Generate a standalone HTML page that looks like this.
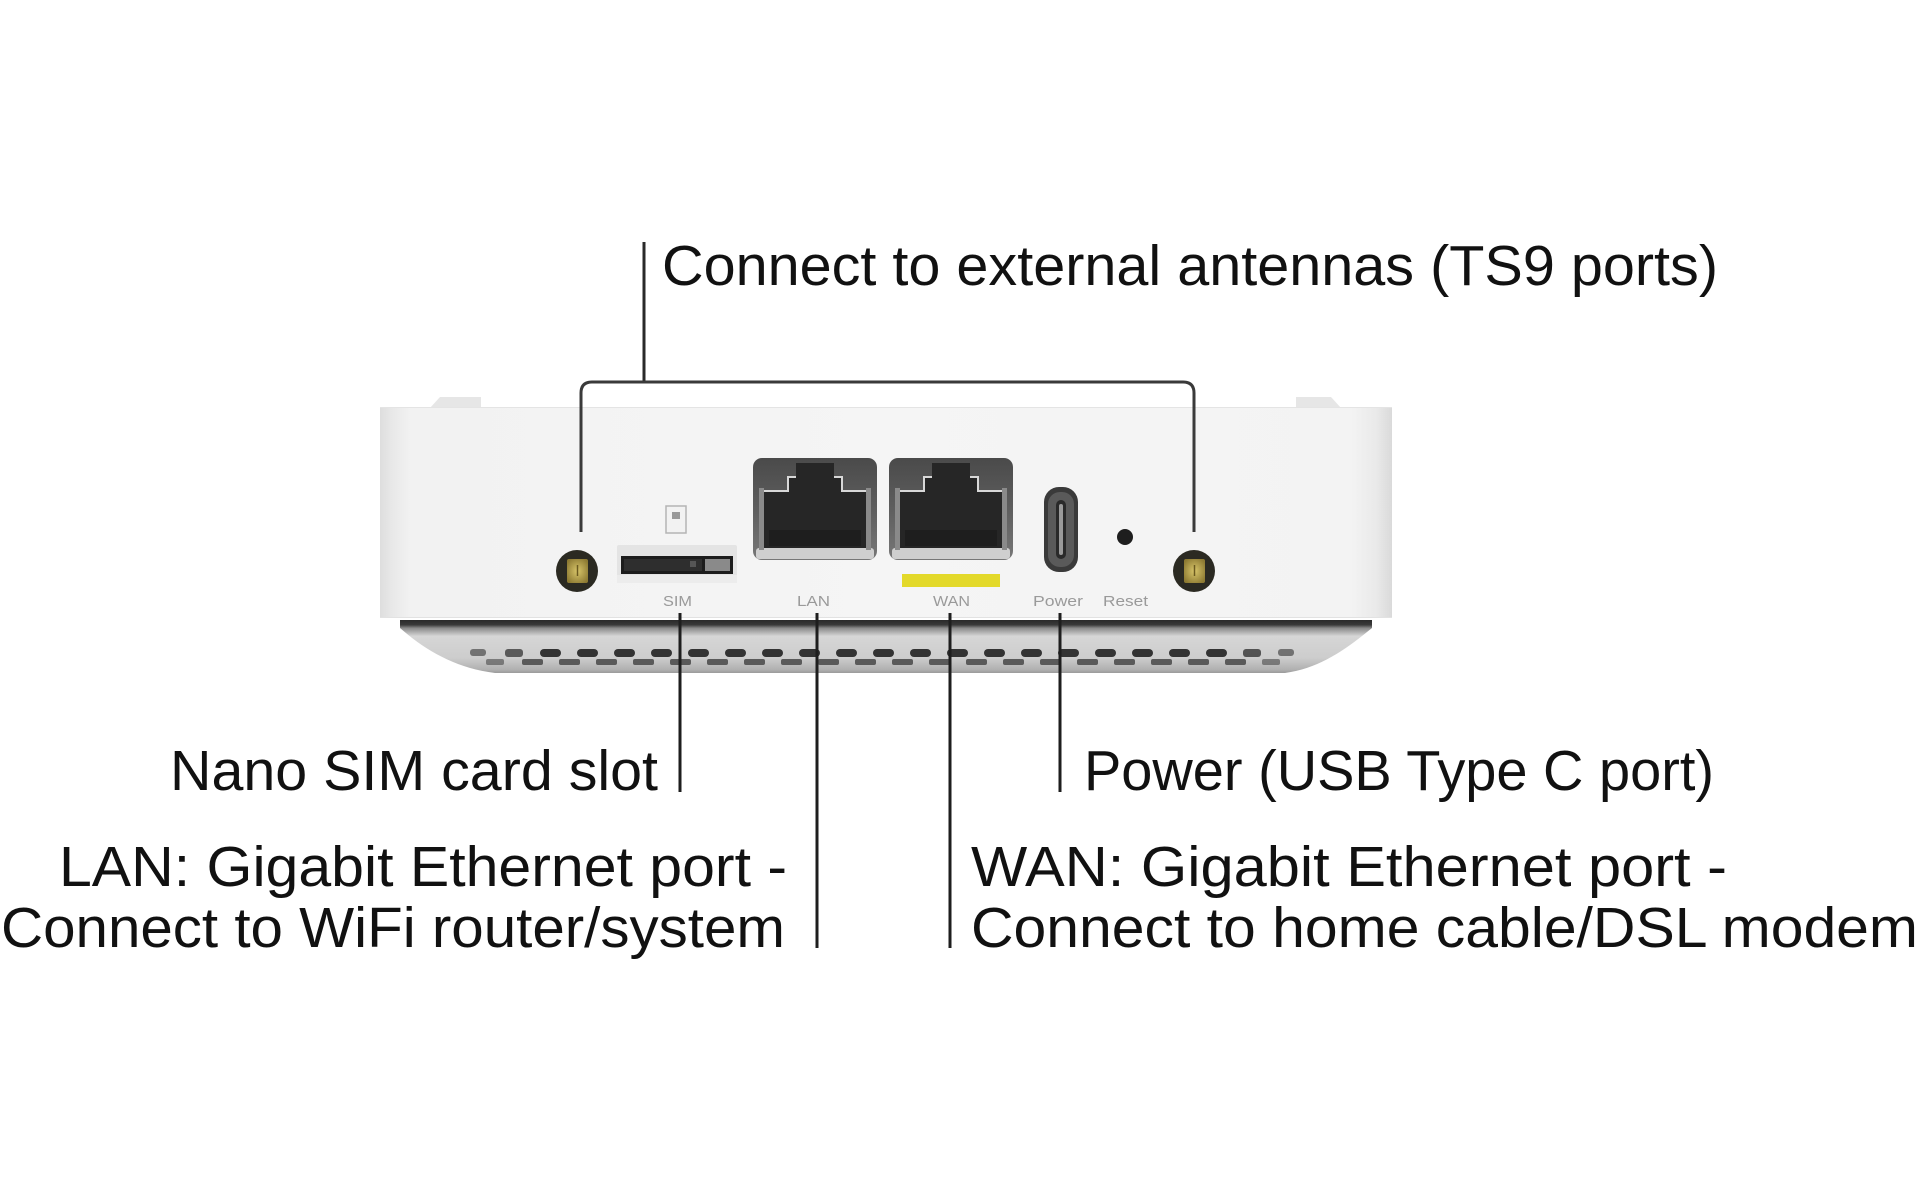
<!DOCTYPE html>
<html>
<head>
<meta charset="utf-8">
<style>
html,body{margin:0;padding:0;background:#fff;}
svg{display:block;}
text{font-family:"Liberation Sans",Arial,sans-serif;}
</style>
</head>
<body>
<svg width="1920" height="1200" viewBox="0 0 1920 1200" xmlns="http://www.w3.org/2000/svg">
<defs>
  <linearGradient id="bodyg" x1="380" y1="0" x2="1392" y2="0" gradientUnits="userSpaceOnUse">
    <stop offset="0" stop-color="#dedede"/>
    <stop offset="0.012" stop-color="#e8e8e8"/>
    <stop offset="0.03" stop-color="#f2f2f2"/>
    <stop offset="0.5" stop-color="#f5f5f5"/>
    <stop offset="0.96" stop-color="#f3f3f3"/>
    <stop offset="0.985" stop-color="#e9e9e9"/>
    <stop offset="1" stop-color="#dadada"/>
  </linearGradient>
  <linearGradient id="ventg" x1="0" y1="620" x2="0" y2="674" gradientUnits="userSpaceOnUse">
    <stop offset="0" stop-color="#2a2a2a"/>
    <stop offset="0.09" stop-color="#3a3a3a"/>
    <stop offset="0.15" stop-color="#8a8a8a"/>
    <stop offset="0.3" stop-color="#d6d6d6"/>
    <stop offset="0.7" stop-color="#cdcdcd"/>
    <stop offset="0.92" stop-color="#b0b0b0"/>
    <stop offset="1" stop-color="#949494"/>
  </linearGradient>
  <linearGradient id="portg" x1="0" y1="0" x2="0" y2="1">
    <stop offset="0" stop-color="#4a4a4a"/>
    <stop offset="0.5" stop-color="#5e5e5e"/>
    <stop offset="1" stop-color="#777"/>
  </linearGradient>
  <radialGradient id="gold" cx="0.5" cy="0.5" r="0.6">
    <stop offset="0" stop-color="#d8c56a"/>
    <stop offset="1" stop-color="#8d7a32"/>
  </radialGradient>
</defs>

<!-- device top tabs -->
<polygon points="430,408 440,397 481,397 481,408" fill="#e6e6e6"/>
<polygon points="1296,408 1296,397 1331,397 1341,408" fill="#e6e6e6"/>

<!-- device body -->
<rect x="380" y="407" width="1012" height="211" fill="url(#bodyg)"/>
<line x1="380" y1="407.5" x2="1392" y2="407.5" stroke="#e4e4e4" stroke-width="1"/>
<line x1="380" y1="617.5" x2="1392" y2="617.5" stroke="#e2e2e2" stroke-width="1"/>

<!-- vent base -->
<path d="M400 620 H1372 V628 C1345 650 1320 668 1285 673 H495 C455 668 425 650 400 628 Z" fill="url(#ventg)"/>
<g fill="#333">
  <rect x="470" y="649" width="16" height="7" rx="3" opacity="0.6"/>
  <rect x="505" y="649" width="18" height="8" rx="3" opacity="0.75"/>
  <rect x="540" y="649" width="21" height="8" rx="4"/>
  <rect x="577" y="649" width="21" height="8" rx="4"/>
  <rect x="614" y="649" width="21" height="8" rx="4"/>
  <rect x="651" y="649" width="21" height="8" rx="4"/>
  <rect x="688" y="649" width="21" height="8" rx="4"/>
  <rect x="725" y="649" width="21" height="8" rx="4"/>
  <rect x="762" y="649" width="21" height="8" rx="4"/>
  <rect x="799" y="649" width="21" height="8" rx="4"/>
  <rect x="836" y="649" width="21" height="8" rx="4"/>
  <rect x="873" y="649" width="21" height="8" rx="4"/>
  <rect x="910" y="649" width="21" height="8" rx="4"/>
  <rect x="947" y="649" width="21" height="8" rx="4"/>
  <rect x="984" y="649" width="21" height="8" rx="4"/>
  <rect x="1021" y="649" width="21" height="8" rx="4"/>
  <rect x="1058" y="649" width="21" height="8" rx="4"/>
  <rect x="1095" y="649" width="21" height="8" rx="4"/>
  <rect x="1132" y="649" width="21" height="8" rx="4"/>
  <rect x="1169" y="649" width="21" height="8" rx="4"/>
  <rect x="1206" y="649" width="21" height="8" rx="4"/>
  <rect x="1243" y="649" width="18" height="8" rx="3" opacity="0.8"/>
  <rect x="1278" y="649" width="16" height="7" rx="3" opacity="0.6"/>
</g>
<g fill="#5a5a5a">
  <rect x="486" y="659" width="18" height="6" rx="2" opacity="0.7"/>
  <rect x="522" y="659" width="21" height="6" rx="2"/>
  <rect x="559" y="659" width="21" height="6" rx="2"/>
  <rect x="596" y="659" width="21" height="6" rx="2"/>
  <rect x="633" y="659" width="21" height="6" rx="2"/>
  <rect x="670" y="659" width="21" height="6" rx="2"/>
  <rect x="707" y="659" width="21" height="6" rx="2"/>
  <rect x="744" y="659" width="21" height="6" rx="2"/>
  <rect x="781" y="659" width="21" height="6" rx="2"/>
  <rect x="818" y="659" width="21" height="6" rx="2"/>
  <rect x="855" y="659" width="21" height="6" rx="2"/>
  <rect x="892" y="659" width="21" height="6" rx="2"/>
  <rect x="929" y="659" width="21" height="6" rx="2"/>
  <rect x="966" y="659" width="21" height="6" rx="2"/>
  <rect x="1003" y="659" width="21" height="6" rx="2"/>
  <rect x="1040" y="659" width="21" height="6" rx="2"/>
  <rect x="1077" y="659" width="21" height="6" rx="2"/>
  <rect x="1114" y="659" width="21" height="6" rx="2"/>
  <rect x="1151" y="659" width="21" height="6" rx="2"/>
  <rect x="1188" y="659" width="21" height="6" rx="2"/>
  <rect x="1225" y="659" width="21" height="6" rx="2"/>
  <rect x="1262" y="659" width="18" height="6" rx="2" opacity="0.7"/>
</g>

<!-- antennas -->
<circle cx="577" cy="571" r="21" fill="#2b2a22"/>
<rect x="567" y="559" width="21" height="24" rx="2" fill="url(#gold)"/>
<line x1="577.5" y1="565" x2="577.5" y2="576" stroke="#6b5a20" stroke-width="1.5"/>
<circle cx="1194" cy="571" r="21" fill="#2b2a22"/>
<rect x="1184" y="559" width="21" height="24" rx="2" fill="url(#gold)"/>
<line x1="1194.5" y1="565" x2="1194.5" y2="576" stroke="#6b5a20" stroke-width="1.5"/>

<!-- SIM -->
<rect x="666" y="506" width="20" height="27" fill="#f2f2f2" stroke="#b4b4b4" stroke-width="1.5"/>
<rect x="672" y="512" width="8" height="7" fill="#999"/>
<rect x="617" y="545" width="120" height="38" rx="2" fill="#e4e4e4"/>
<rect x="617" y="575" width="120" height="8" fill="#ececec"/>
<rect x="621" y="556" width="112" height="18" fill="#1c1c1c"/>
<rect x="624" y="559" width="78" height="12" fill="#2e2e2e"/>
<rect x="705" y="559" width="25" height="12" fill="#8a8a8a"/>
<rect x="690" y="561" width="6" height="6" fill="#555"/>

<!-- LAN port -->
<g transform="translate(753,458)">
  <rect x="0" y="0" width="124" height="102" rx="9" fill="url(#portg)"/>
  <rect x="3" y="90" width="118" height="11" rx="3" fill="#cfcfcf"/>
  <rect x="6" y="30" width="5" height="62" fill="#8a8a8a"/>
  <rect x="113" y="30" width="5" height="62" fill="#8a8a8a"/>
  <polygon points="11,33 11,90 113,90 113,33 89,33 89,19 81,19 81,5 43,5 43,19 35,19 35,33" fill="#262626"/>
  <polyline points="11,33 35,33 35,19 43,19" fill="none" stroke="#d8d8d8" stroke-width="2"/>
  <polyline points="81,19 89,19 89,33 113,33" fill="none" stroke="#d8d8d8" stroke-width="2"/>
  <rect x="16" y="72" width="92" height="16" fill="#1e1e1e"/>
</g>
<!-- WAN port -->
<g transform="translate(889,458)">
  <rect x="0" y="0" width="124" height="102" rx="9" fill="url(#portg)"/>
  <rect x="3" y="90" width="118" height="11" rx="3" fill="#cfcfcf"/>
  <rect x="6" y="30" width="5" height="62" fill="#8a8a8a"/>
  <rect x="113" y="30" width="5" height="62" fill="#8a8a8a"/>
  <polygon points="11,33 11,90 113,90 113,33 89,33 89,19 81,19 81,5 43,5 43,19 35,19 35,33" fill="#262626"/>
  <polyline points="11,33 35,33 35,19 43,19" fill="none" stroke="#d8d8d8" stroke-width="2"/>
  <polyline points="81,19 89,19 89,33 113,33" fill="none" stroke="#d8d8d8" stroke-width="2"/>
  <rect x="16" y="72" width="92" height="16" fill="#1e1e1e"/>
</g>
<rect x="902" y="574" width="98" height="13" fill="#e3d92a"/>

<!-- USB-C -->
<rect x="1044" y="487" width="34" height="85" rx="15" fill="#3a3a3a"/>
<rect x="1048" y="492" width="26" height="75" rx="12" fill="#5a5a5a"/>
<rect x="1056" y="500" width="10" height="59" rx="5" fill="#2a2a2a"/>
<rect x="1059" y="504" width="4" height="51" rx="2" fill="#9a9a9a"/>

<!-- Reset -->
<circle cx="1125" cy="537" r="8" fill="#1e1e1e"/>

<!-- tiny labels -->
<g fill="#9a9a9a" font-size="15">
  <text x="663" y="606" textLength="29" lengthAdjust="spacingAndGlyphs">SIM</text>
  <text x="797" y="606" textLength="33" lengthAdjust="spacingAndGlyphs">LAN</text>
  <text x="933" y="606" textLength="37" lengthAdjust="spacingAndGlyphs">WAN</text>
  <text x="1033" y="606" textLength="50" lengthAdjust="spacingAndGlyphs">Power</text>
  <text x="1103" y="606" textLength="45" lengthAdjust="spacingAndGlyphs">Reset</text>
</g>

<!-- connector lines -->
<line x1="644" y1="242" x2="644" y2="383" stroke="#2a2a2a" stroke-width="3"/>
<path d="M581 532 V393 Q581 382 592 382 H1183 Q1194 382 1194 393 V532" fill="none" stroke="#3a3a3a" stroke-width="3"/>
<g stroke="#1e1e1e" stroke-width="3">
  <line x1="680" y1="613" x2="680" y2="792"/>
  <line x1="817" y1="613" x2="817" y2="948"/>
  <line x1="950" y1="613" x2="950" y2="948"/>
  <line x1="1060" y1="613" x2="1060" y2="792"/>
</g>

<!-- labels -->
<g fill="#111" font-size="57">
  <text x="662" y="285" textLength="1056" lengthAdjust="spacingAndGlyphs">Connect to external antennas (TS9 ports)</text>
  <text x="170" y="790" textLength="488" lengthAdjust="spacingAndGlyphs">Nano SIM card slot</text>
  <text x="1084" y="790" textLength="630" lengthAdjust="spacingAndGlyphs">Power (USB Type C port)</text>
  <text x="59" y="886" textLength="728" lengthAdjust="spacingAndGlyphs">LAN: Gigabit Ethernet port -</text>
  <text x="1" y="947" textLength="784" lengthAdjust="spacingAndGlyphs">Connect to WiFi router/system</text>
  <text x="971" y="886" textLength="756" lengthAdjust="spacingAndGlyphs">WAN: Gigabit Ethernet port -</text>
  <text x="971" y="947" textLength="947" lengthAdjust="spacingAndGlyphs">Connect to home cable/DSL modem</text>
</g>
</svg>
</body>
</html>
